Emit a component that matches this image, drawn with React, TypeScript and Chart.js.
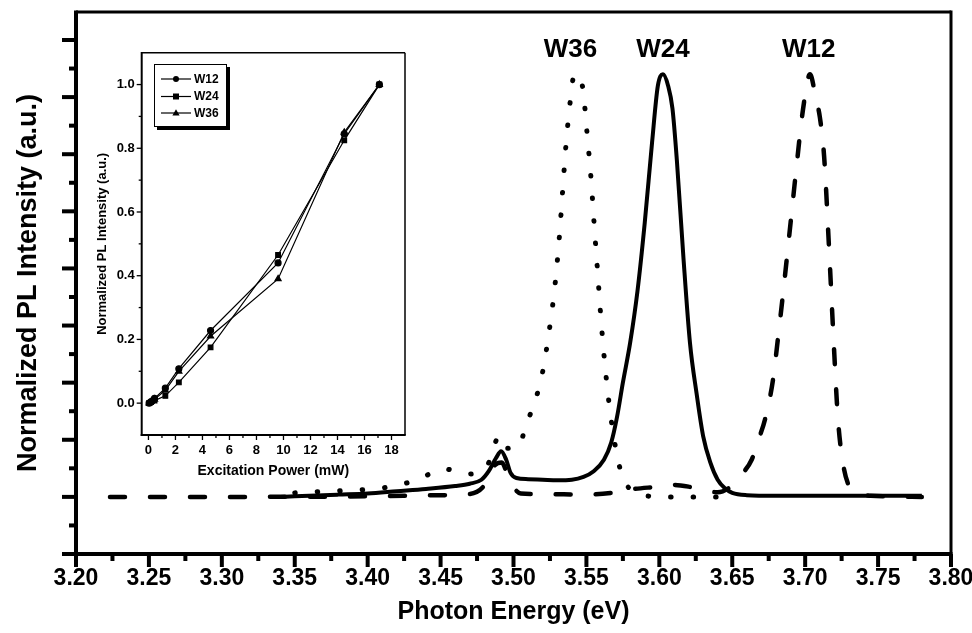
import React, { useEffect, useRef } from 'react';
import { Chart, registerables } from 'chart.js';

Chart.register(...registerables);

// ---------- main spectra (photon energy in eV, normalized PL intensity in a.u.) ----------
const w24Energy = [3.34, 3.36, 3.38, 3.40, 3.42, 3.44, 3.46, 3.47, 3.478, 3.483, 3.488, 3.4915, 3.495, 3.498, 3.502, 3.51, 3.52, 3.53, 3.54, 3.548, 3.555, 3.562, 3.567, 3.571, 3.575, 3.58, 3.585, 3.59, 3.595, 3.599, 3.6025, 3.606, 3.609, 3.612, 3.6165, 3.621, 3.6256, 3.63, 3.635, 3.64, 3.645, 3.65, 3.66, 3.68, 3.72, 3.78];
const w24Intensity = [0, 0.02, 0.04, 0.06, 0.10, 0.14, 0.19, 0.23, 0.30, 0.45, 0.68, 0.80, 0.65, 0.42, 0.33, 0.31, 0.30, 0.29, 0.30, 0.35, 0.45, 0.65, 0.95, 1.4, 2.0, 2.7, 3.6, 4.8, 6.2, 7.2, 7.4, 7.2, 6.8, 5.9, 4.2, 2.7, 1.8, 1.07, 0.6, 0.3, 0.15, 0.07, 0.03, 0.02, 0.02, 0.02];

const w36Energy = [3.35, 3.367, 3.384, 3.40, 3.418, 3.435, 3.452, 3.47, 3.482, 3.4905, 3.496, 3.503, 3.509, 3.515, 3.5193, 3.5245, 3.5285, 3.5314, 3.5337, 3.536, 3.5392, 3.5417, 3.5472, 3.5504, 3.5532, 3.5554, 3.5577, 3.56, 3.5627, 3.5662, 3.5712, 3.5758, 3.582, 3.59, 3.61, 3.645];
const w36Intensity = [0.07, 0.09, 0.11, 0.13, 0.19, 0.31, 0.49, 0.40, 0.55, 1.07, 0.85, 0.87, 1.28, 1.7, 2.10, 2.91, 3.72, 4.54, 5.36, 6.17, 6.99, 7.40, 7.2, 6.38, 5.56, 4.74, 3.93, 3.11, 2.31, 1.50, 0.70, 0.29, 0.10, 0.02, 0, 0];

const w12Energy = [3.2233, 3.30, 3.40, 3.45, 3.47, 3.48, 3.487, 3.492, 3.497, 3.505, 3.52, 3.55, 3.57, 3.58, 3.60, 3.61, 3.62, 3.63, 3.64, 3.65, 3.655, 3.6635, 3.668, 3.6725, 3.678, 3.681, 3.685, 3.69, 3.694, 3.6985, 3.7033, 3.7075, 3.710, 3.713, 3.7164, 3.7198, 3.7225, 3.726, 3.7294, 3.735, 3.745, 3.78];
const w12Intensity = [0, 0, 0.01, 0.03, 0.05, 0.2, 0.55, 0.6, 0.3, 0.06, 0.05, 0.04, 0.08, 0.13, 0.18, 0.21, 0.18, 0.12, 0.08, 0.2, 0.35, 0.66, 1.0, 1.36, 2.06, 2.7, 3.6, 4.8, 5.77, 6.78, 7.4, 6.96, 6.66, 5.96, 4.34, 2.59, 1.36, 0.58, 0.23, 0.08, 0.02, 0];

const peakLabels = ['W36', 'W24', 'W12'];
const peakLabelEnergy = [3.539, 3.6025, 3.7025];
const peakLabelLevel = 7.82;

const xTickValues = [3.2, 3.25, 3.3, 3.35, 3.4, 3.45, 3.5, 3.55, 3.6, 3.65, 3.7, 3.75, 3.8];
const yMajorTicks = [-1, 0, 1, 2, 3, 4, 5, 6, 7, 8];

// ---------- inset (excitation power in mW, normalized PL intensity) ----------
const excitationPower = [0.05, 0.2, 0.45, 1.25, 2.25, 4.6, 9.6, 14.5, 17.1];
const insetW12 = [0, 0.005, 0.015, 0.047, 0.108, 0.228, 0.44, 0.845, 1.0];
const insetW24 = [0, 0.003, 0.008, 0.023, 0.065, 0.175, 0.465, 0.825, 1.0];
const insetW36 = [0, 0.005, 0.012, 0.04, 0.10, 0.21, 0.39, 0.85, 1.0];
const insetXTicks = [0, 2, 4, 6, 8, 10, 12, 14, 16, 18];
const insetYTicks = [0, 0.2, 0.4, 0.6, 0.8, 1.0];

const FONT = "'Liberation Sans', Arial, Helvetica, sans-serif";

const zip = (xs: number[], ys: number[]) => xs.map((x, i) => ({ x, y: ys[i] }));

function strokeLine(ctx: CanvasRenderingContext2D, x1: number, y1: number, x2: number, y2: number) {
  ctx.beginPath();
  ctx.moveTo(x1, y1);
  ctx.lineTo(x2, y2);
  ctx.stroke();
}

const mainDecor = {
  id: 'mainDecor',
  afterDatasetsDraw(chart: any) {
    const { ctx, chartArea: a, scales } = chart;
    const x = scales.x;
    const y = scales.y;
    ctx.save();
    ctx.strokeStyle = '#000';
    ctx.lineCap = 'butt';
    // frame
    ctx.lineWidth = 3;
    strokeLine(ctx, a.left, a.top, a.right, a.top);
    strokeLine(ctx, a.right, a.top - 1.5, a.right, a.bottom);
    ctx.lineWidth = 4;
    strokeLine(ctx, a.left, a.top - 1.5, a.left, a.bottom + 2);
    strokeLine(ctx, a.left - 2, a.bottom, a.right + 1.5, a.bottom);
    // y ticks (major + minor)
    for (let i = 0; i < yMajorTicks.length; i++) {
      const v = yMajorTicks[i];
      const py = y.getPixelForValue(v);
      strokeLine(ctx, a.left - 14, py, a.left, py);
      const mv = v + 0.5;
      if (mv < y.max) {
        const pm = y.getPixelForValue(mv);
        strokeLine(ctx, a.left - 7, pm, a.left, pm);
      }
    }
    // x ticks (major + minor)
    for (let i = 0; i < xTickValues.length; i++) {
      const px = x.getPixelForValue(xTickValues[i]);
      strokeLine(ctx, px, a.bottom, px, a.bottom + 13);
      if (i < xTickValues.length - 1) {
        const pm = x.getPixelForValue((xTickValues[i] + xTickValues[i + 1]) / 2);
        strokeLine(ctx, pm, a.bottom, pm, a.bottom + 7);
      }
    }
    // peak labels
    ctx.fillStyle = '#000';
    ctx.font = `bold 26px ${FONT}`;
    ctx.textAlign = 'center';
    ctx.textBaseline = 'middle';
    for (let i = 0; i < peakLabels.length; i++) {
      ctx.fillText(peakLabels[i], x.getPixelForValue(peakLabelEnergy[i]), y.getPixelForValue(peakLabelLevel));
    }
    ctx.restore();
  },
};

const insetDecor = {
  id: 'insetDecor',
  afterDatasetsDraw(chart: any) {
    const { ctx, chartArea: a, scales } = chart;
    const x = scales.x;
    const y = scales.y;
    ctx.save();
    ctx.strokeStyle = '#000';
    ctx.lineWidth = 1.5;
    strokeLine(ctx, a.left, a.top, a.right, a.top);
    strokeLine(ctx, a.right, a.top, a.right, a.bottom);
    ctx.lineWidth = 2;
    strokeLine(ctx, a.left, a.top - 0.75, a.left, a.bottom + 1);
    strokeLine(ctx, a.left - 1, a.bottom, a.right + 0.75, a.bottom);
    ctx.lineWidth = 1.3;
    for (let i = 0; i < insetXTicks.length; i++) {
      const px = x.getPixelForValue(insetXTicks[i]);
      strokeLine(ctx, px, a.bottom, px, a.bottom + 5);
      const pm = x.getPixelForValue(insetXTicks[i] + 1);
      if (pm < a.right) strokeLine(ctx, pm, a.bottom, pm, a.bottom + 3);
    }
    for (let i = 0; i < insetYTicks.length; i++) {
      const py = y.getPixelForValue(insetYTicks[i]);
      strokeLine(ctx, a.left - 5, py, a.left, py);
      const pm = y.getPixelForValue(insetYTicks[i] + 0.1);
      if (pm > a.top) strokeLine(ctx, a.left - 3, pm, a.left, pm);
    }
    // legend box with shadow
    const lx = 59, ly = 24, lw = 73, lh = 63;
    ctx.fillStyle = '#000';
    ctx.fillRect(lx + 3, ly + 3, lw, lh);
    ctx.fillStyle = '#fff';
    ctx.fillRect(lx, ly, lw, lh);
    ctx.lineWidth = 1;
    ctx.strokeRect(lx + 0.5, ly + 0.5, lw - 1, lh - 1);
    const rows = [39, 56.5, 73];
    const ds = chart.data.datasets;
    ctx.font = `bold 12px ${FONT}`;
    ctx.textAlign = 'left';
    ctx.textBaseline = 'middle';
    for (let i = 0; i < ds.length; i++) {
      const ry = rows[i];
      ctx.lineWidth = 1.2;
      ctx.strokeStyle = '#000';
      strokeLine(ctx, 66, ry, 96, ry);
      ctx.fillStyle = '#000';
      const cx = 81;
      const st = ds[i].pointStyle;
      ctx.beginPath();
      if (st === 'circle') {
        ctx.arc(cx, ry, 3, 0, Math.PI * 2);
      } else if (st === 'rect') {
        ctx.rect(cx - 3, ry - 3, 6, 6);
      } else {
        ctx.moveTo(cx, ry - 3.8);
        ctx.lineTo(cx + 3.6, ry + 2.6);
        ctx.lineTo(cx - 3.6, ry + 2.6);
        ctx.closePath();
      }
      ctx.fill();
      ctx.fillText(ds[i].label, 99, ry + 0.5);
    }
    ctx.restore();
  },
};

export default function App() {
  const mainRef = useRef<HTMLCanvasElement>(null);
  const insetRef = useRef<HTMLCanvasElement>(null);

  useEffect(() => {
    const main = new Chart(mainRef.current as HTMLCanvasElement, {
      type: 'line',
      data: {
        datasets: [
          {
            label: 'W24',
            data: zip(w24Energy, w24Intensity),
            borderColor: '#000',
            borderWidth: 4,
            pointRadius: 0,
            fill: false,
            cubicInterpolationMode: 'monotone',
          },
          {
            label: 'W36',
            data: zip(w36Energy, w36Intensity),
            borderColor: '#000',
            borderWidth: 5,
            borderDash: [0.5, 22],
            borderCapStyle: 'round',
            pointRadius: 0,
            fill: false,
            cubicInterpolationMode: 'monotone',
          },
          {
            label: 'W12',
            data: zip(w12Energy, w12Intensity),
            borderColor: '#000',
            borderWidth: 4.5,
            borderDash: [15, 25],
            borderCapStyle: 'round',
            pointRadius: 0,
            fill: false,
            cubicInterpolationMode: 'monotone',
          },
        ],
      } as any,
      options: {
        responsive: false,
        animation: false,
        events: [],
        layout: { padding: { left: 0, top: 12, right: 21, bottom: 0 } },
        plugins: { legend: { display: false }, tooltip: { enabled: false } },
        scales: {
          x: {
            type: 'linear',
            min: 3.2,
            max: 3.8,
            afterBuildTicks: (s: any) => {
              s.ticks = xTickValues.map((v) => ({ value: v }));
            },
            afterFit: (s: any) => {
              s.height = 79;
              s.paddingLeft = 0;
              s.paddingRight = 0;
            },
            ticks: {
              color: '#000',
              font: { family: FONT, size: 23, weight: 'bold' },
              padding: 11,
              maxRotation: 0,
              autoSkip: false,
              callback: (v: any) => Number(v).toFixed(2),
            },
            grid: { display: false, drawTicks: false },
            border: { display: false },
            title: {
              display: true,
              text: 'Photon Energy (eV)',
              color: '#000',
              font: { family: FONT, size: 25, weight: 'bold' },
              padding: { top: 0, bottom: 6 },
            },
          },
          y: {
            type: 'linear',
            min: -1,
            max: 8.49,
            afterFit: (s: any) => {
              s.width = 76;
              s.paddingTop = 0;
              s.paddingBottom = 0;
            },
            ticks: { display: false, stepSize: 1 },
            grid: { display: false, drawTicks: false },
            border: { display: false },
            title: {
              display: true,
              text: 'Normalized PL Intensity (a.u.)',
              color: '#000',
              font: { family: FONT, size: 27, weight: 'bold' },
              padding: { top: 12, bottom: 0 },
            },
          },
        },
      } as any,
      plugins: [mainDecor],
    });

    const inset = new Chart(insetRef.current as HTMLCanvasElement, {
      type: 'line',
      data: {
        datasets: [
          {
            label: 'W12',
            data: zip(excitationPower, insetW12),
            borderColor: '#000',
            backgroundColor: '#000',
            borderWidth: 1.2,
            pointStyle: 'circle',
            pointRadius: 3,
            tension: 0,
          },
          {
            label: 'W24',
            data: zip(excitationPower, insetW24),
            borderColor: '#000',
            backgroundColor: '#000',
            borderWidth: 1.2,
            pointStyle: 'rect',
            pointRadius: 3.3,
            tension: 0,
          },
          {
            label: 'W36',
            data: zip(excitationPower, insetW36),
            borderColor: '#000',
            backgroundColor: '#000',
            borderWidth: 1.2,
            pointStyle: 'triangle',
            pointRadius: 3.5,
            tension: 0,
          },
        ],
      } as any,
      options: {
        responsive: false,
        animation: false,
        events: [],
        layout: { padding: { left: 0, top: 12.7, right: 10, bottom: 0 } },
        plugins: { legend: { display: false }, tooltip: { enabled: false } },
        scales: {
          x: {
            type: 'linear',
            min: -0.5,
            max: 19,
            afterBuildTicks: (s: any) => {
              s.ticks = insetXTicks.map((v) => ({ value: v }));
            },
            afterFit: (s: any) => {
              s.height = 45;
              s.paddingLeft = 0;
              s.paddingRight = 0;
            },
            ticks: {
              color: '#000',
              font: { family: FONT, size: 13, weight: 'bold' },
              padding: 8,
              maxRotation: 0,
              autoSkip: false,
            },
            grid: { display: false, drawTicks: false },
            border: { display: false },
            title: {
              display: true,
              text: 'Excitation Power (mW)',
              color: '#000',
              font: { family: FONT, size: 14, weight: 'bold' },
              padding: { top: 0, bottom: 0 },
            },
          },
          y: {
            type: 'linear',
            min: -0.1,
            max: 1.1,
            afterBuildTicks: (s: any) => {
              s.ticks = insetYTicks.map((v) => ({ value: v }));
            },
            afterFit: (s: any) => {
              s.width = 46.7;
              s.paddingTop = 0;
              s.paddingBottom = 0;
            },
            ticks: {
              color: '#000',
              font: { family: FONT, size: 13, weight: 'bold' },
              padding: 7,
              autoSkip: false,
              callback: (v: any) => Number(v).toFixed(1),
            },
            grid: { display: false, drawTicks: false },
            border: { display: false },
            title: {
              display: true,
              text: 'Normalized PL Intensity (a.u.)',
              color: '#000',
              font: { family: FONT, size: 13, weight: 'bold' },
              padding: { top: 0, bottom: 0 },
            },
          },
        },
      } as any,
      plugins: [insetDecor],
    });

    return () => {
      main.destroy();
      inset.destroy();
    };
  }, []);

  return (
    <div style={{ position: 'absolute', left: 0, top: 0, width: 972, height: 633, background: '#fff' }}>
      <canvas ref={mainRef} width={972} height={633} style={{ position: 'absolute', left: 0, top: 0 }} />
      <canvas ref={insetRef} width={320} height={440} style={{ position: 'absolute', left: 95, top: 40 }} />
    </div>
  );
}
